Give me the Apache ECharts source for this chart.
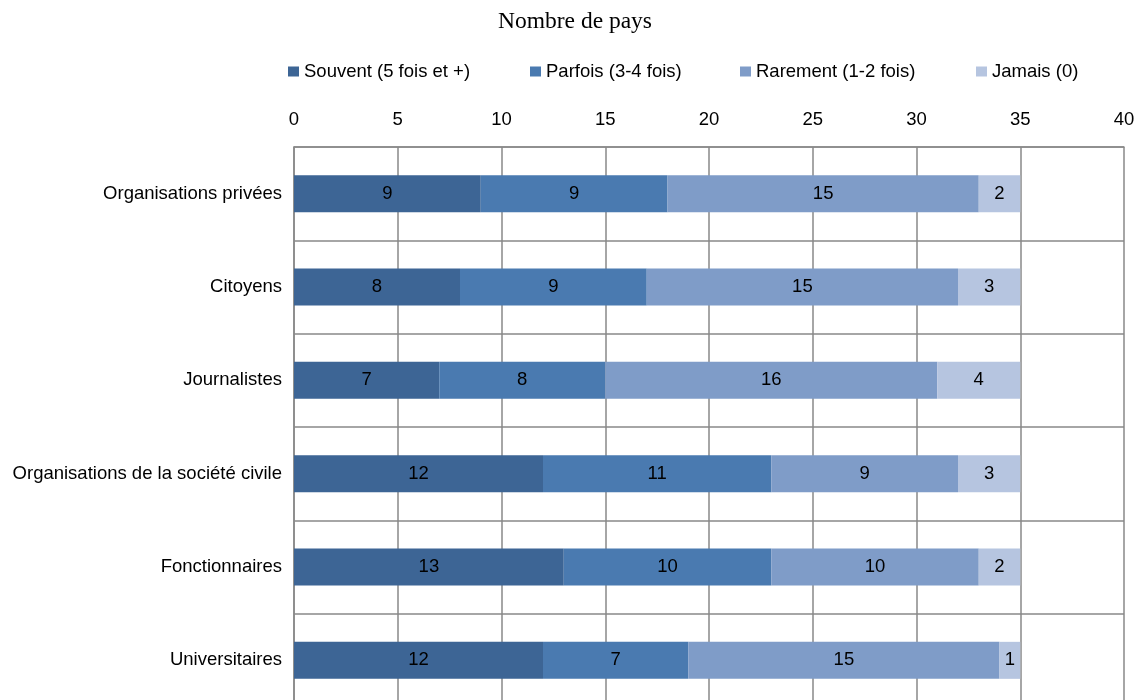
<!DOCTYPE html>
<html>
<head>
<meta charset="utf-8">
<script src="https://cdn.jsdelivr.net/npm/echarts@6/dist/echarts.min.js"></script>
<style>html,body{margin:0;padding:0;background:#fff;}#c{width:1137px;height:700px;}</style>
</head>
<body>
<div id="c"></div>
<script>
const categories = ["Organisations privées","Citoyens","Journalistes","Organisations de la société civile","Fonctionnaires","Universitaires"];
const souvent = [9, 8, 7, 12, 13, 12];
const parfois = [9, 9, 8, 11, 10, 7];
const rarement = [15, 15, 16, 9, 10, 15];
const jamais = [2, 3, 4, 3, 2, 1];
const seriesNames = ["Souvent (5 fois et +)","Parfois (3-4 fois)","Rarement (1-2 fois)","Jamais (0)"];
const colors = ["#3D6595","#4A7AB0","#7F9CC8","#B6C5E0"];
const FONT = "Liberation Sans";
const FS = 18.5;
const legendLeft = [288, 530, 740, 976];

const chart = echarts.init(document.getElementById('c'), null, {renderer:'canvas'});
const values = [souvent, parfois, rarement, jamais];
chart.setOption({
  animation:false,
  title:{text:"Nombre de pays", left:570, top:5, textAlign:'center',
    textStyle:{fontFamily:"Liberation Serif", fontSize:23.5, fontWeight:'normal', color:'#000'}},
  legend: seriesNames.map((n,i)=>({data:[n], left:legendLeft[i], top:62, padding:0, itemWidth:11, itemHeight:10, itemGap:4,
    icon:'rect', textStyle:{fontFamily:FONT, fontSize:FS, color:'#000'}})),
  grid:{left:294, top:147, width:830, height:560, containLabel:false, outerBoundsMode:'none'},
  xAxis:{type:'value', position:'top', min:0, max:40, interval:5,
    axisLine:{show:true, lineStyle:{color:'#898989', width:1.5}},
    axisTick:{show:false},
    axisLabel:{fontFamily:FONT, fontSize:FS, color:'#000', margin:18},
    splitLine:{show:true, lineStyle:{color:'#898989', width:1.5}}},
  yAxis:{type:'category', data:categories, inverse:true,
    axisLine:{show:true, lineStyle:{color:'#898989', width:1.5}},
    axisTick:{show:false},
    axisLabel:{fontFamily:FONT, fontSize:FS, color:'#000', margin:12},
    splitLine:{show:true, lineStyle:{color:'#898989', width:1.5}}},
  series: seriesNames.map((n,i)=>({name:n, type:'bar', stack:'s', data:values[i], barWidth:37,
    itemStyle:{color:colors[i]},
    label:{show:true, position:'inside', fontFamily:FONT, fontSize:FS, color:'#000'}}))
});
</script>
</body>
</html>
